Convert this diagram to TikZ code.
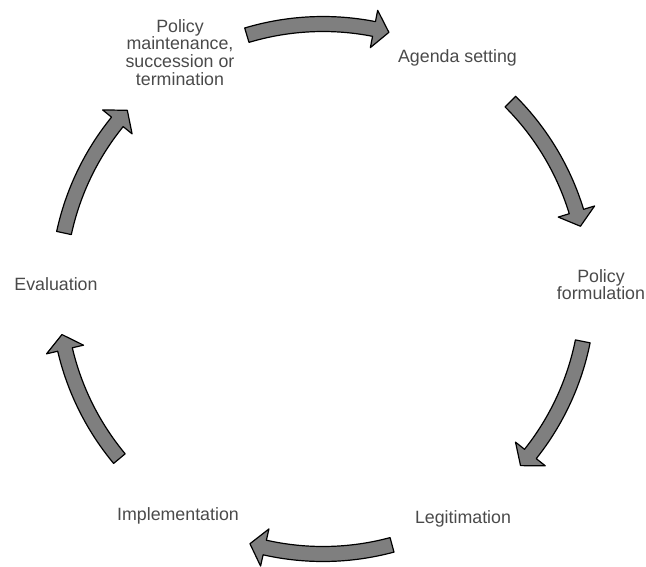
\documentclass[tikz,border=0pt]{standalone}
\usepackage{fontspec}
\setmainfont{Liberation Sans}
\begin{document}
\begin{tikzpicture}[x=1pt,y=1pt,
  lbl/.style={inner sep=0pt, text=labelgray, align=center,
    font=\fontsize{17.8}{17.8}\selectfont},
  blockarrow/.style={fill=arrowgray, draw=black, line width=1.2pt, line join=round}]
\definecolor{labelgray}{HTML}{4A4A4A}
\definecolor{arrowgray}{HTML}{7F7F7F}
\useasboundingbox (-323,-277) rectangle (323,289);
\newcommand\cyclearrow[2]{%
  \pgfmathsetmacro\hb{#2+3.3}%
  \draw[blockarrow] (#1:272.5) arc[start angle=#1, end angle=\hb, radius=272.5]
    -- (\hb:284) -- (#2:265) -- (\hb:246) -- (\hb:257.5)
    arc[start angle=\hb, end angle=#1, radius=257.5] -- cycle;}
% labels
\node[lbl, anchor=north] (maint) at (-143,270) {Policy\\maintenance,\\succession or\\termination};
\node[lbl, anchor=base] (agenda) at (134.5,227) {Agenda setting};
\node[lbl, anchor=north] (form) at (278,20) {Policy\\formulation};
\node[lbl, anchor=base] (legit) at (140,-234) {Legitimation};
\node[lbl, anchor=base] (impl) at (-145,-231) {Implementation};
\node[lbl, anchor=base] (eval) at (-267,-1) {Evaluation};
% arrows
\cyclearrow{106.7}{75.6}
\cyclearrow{45}{13.7}
\cyclearrow{-11.4}{-41.8}
\cyclearrow{-74.9}{-106}
\cyclearrow{-140.2}{-170.1}
\cyclearrow{167.8}{137.6}
\end{tikzpicture}
\end{document}
